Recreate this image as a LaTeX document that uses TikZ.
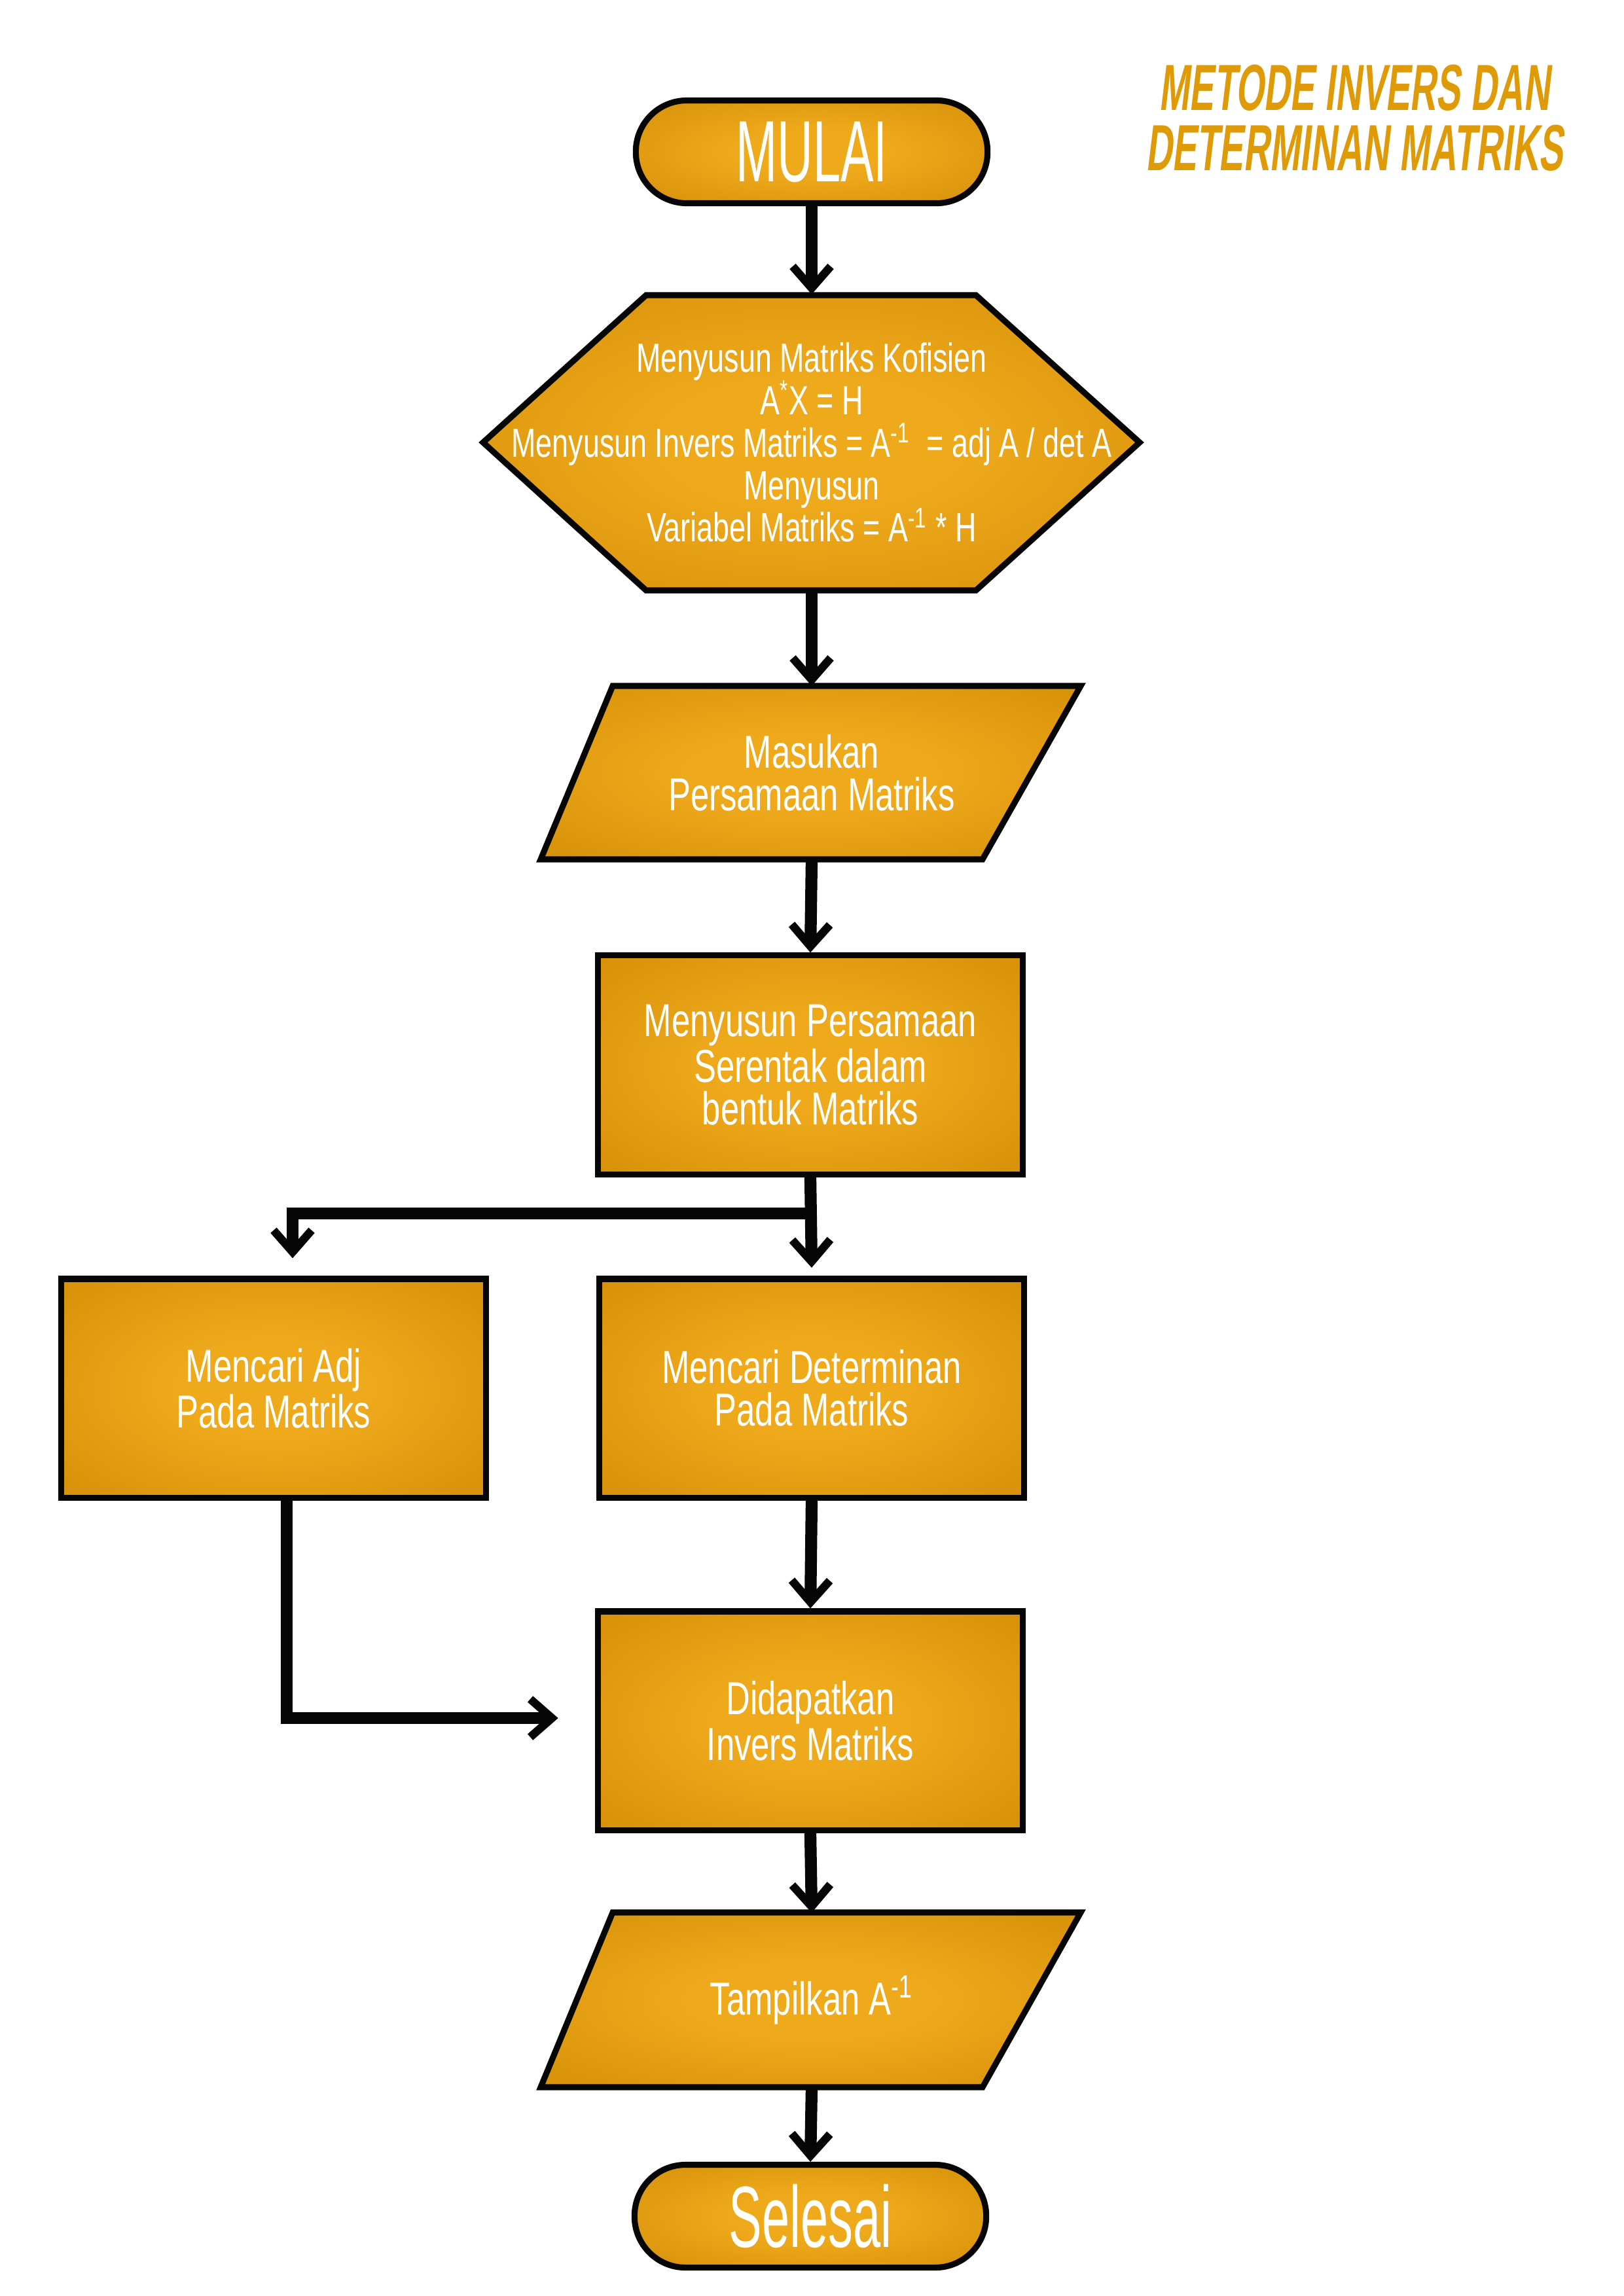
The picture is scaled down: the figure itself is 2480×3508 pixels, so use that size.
\documentclass[tikz,border=0pt]{standalone}
\usepackage{fontspec}
\setmainfont[FakeStretch=0.72]{Liberation Sans}
\newfontfamily\termfont[FakeStretch=0.57]{Liberation Sans}
\newfontfamily\titlefont[FakeStretch=0.56,FakeSlant=0.12]{Liberation Sans}
\usetikzlibrary{arrows.meta, positioning, shapes.geometric, calc}

\definecolor{goldlight}{HTML}{EFAA1C}
\definecolor{golddark}{HTML}{D28C06}
\definecolor{titlegold}{HTML}{DF9A08}
\definecolor{inkblack}{HTML}{060606}
\pgfdeclareradialshading{goldglow}{\pgfpointorigin}{color(0bp)=(goldlight); color(10bp)=(goldlight); color(40bp)=(golddark); color(50bp)=(golddark)}

\tikzset{
  shapefill/.style={draw=inkblack, line width=2.2pt, shade, shading=goldglow, line join=miter},
  bodytext/.style={text=white, align=center, font=\fontsize{17}{15.6}\selectfont},
  box/.style={shapefill, bodytext},
  terminal/.style={box, rectangle, rounded corners=0.66cm, minimum width=4.55cm, minimum height=1.33cm, font=\termfont\fontsize{32}{32}\selectfont},
  procbox/.style={box, rectangle, minimum width=5.5cm, minimum height=2.83cm},
  flow/.style={draw=inkblack, line width=4.4pt, -{Straight Barb[length=8pt, width=14pt, line width=3pt]}}
}

\begin{document}
\begin{tikzpicture}[x=0.0084677cm, y=-0.0084677cm]
  \path[use as bounding box, fill=white] (0,0) rectangle (2480,3508);

  % bentuk heksagon dan jajar genjang
  \path[shapefill] (738,676) -- (987,451) -- (1491,451) -- (1741,676) -- (1491,902) -- (987,902) -- cycle;
  \path[shapefill] (936,1048) -- (1651,1048) -- (1501,1313) -- (826,1313) -- cycle;
  \path[shapefill] (936,2922) -- (1651,2922) -- (1501,3189) -- (826,3189) -- cycle;

  \node[terminal] (mulai) at (1240,232) {MULAI};
  \node[bodytext, font=\fontsize{15}{15.6}\selectfont, minimum height=3.82cm] (kofisien) at (1240,676) {Menyusun Matriks Kofisien\\ A\textsuperscript{*}X = H\\ Menyusun Invers Matriks = A\textsuperscript{-1}\ \ = adj A / det A\\ Menyusun\\ Variabel Matriks = A\textsuperscript{-1} * H};
  \node[bodytext, minimum height=2.24cm] (masukan) at (1240,1181) {Masukan\\ Persamaan Matriks};
  \node[procbox] (serentak) at (1238,1627) {Menyusun Persamaan\\ Serentak dalam\\ bentuk Matriks};
  \node[procbox] (adj) at (418,2121) {Mencari Adj\\ Pada Matriks};
  \node[procbox] (det) at (1240,2121) {Mencari Determinan\\ Pada Matriks};
  \node[procbox] (invers) at (1238,2629) {Didapatkan\\ Invers Matriks};
  \node[bodytext, minimum height=2.25cm] (tampil) at (1240,3056) {Tampilkan A\textsuperscript{-1}};
  \node[terminal] (selesai) at (1238,3386) {Selesai};
  \node[font=\titlefont\bfseries\fontsize{24}{22.2}\selectfont, text=titlegold, align=center] (judul) at (2069,180) {METODE INVERS DAN\\ DETERMINAN MATRIKS};

  % alur utama
  \draw[flow] (mulai.south) -- (kofisien.north);
  \draw[flow] (kofisien.south) -- (masukan.north);
  \draw[flow] (masukan.south) -- (serentak.north);
  \coordinate (cabang) at (1238,1854);
  \draw[flow] (serentak.south) -- ([yshift=3pt]det.north);
  \draw[flow] (cabang) -| ($(adj.north)+(29,-27)$);
  \draw[flow] (det.south) -- (invers.north);
  \draw[flow] ($(adj.south)+(20,0)$) |- ($(invers.west)+(-56,-4)$);
  \draw[flow] (invers.south) -- (tampil.north);
  \draw[flow] (tampil.south) -- (selesai.north);
\end{tikzpicture}
\end{document}
